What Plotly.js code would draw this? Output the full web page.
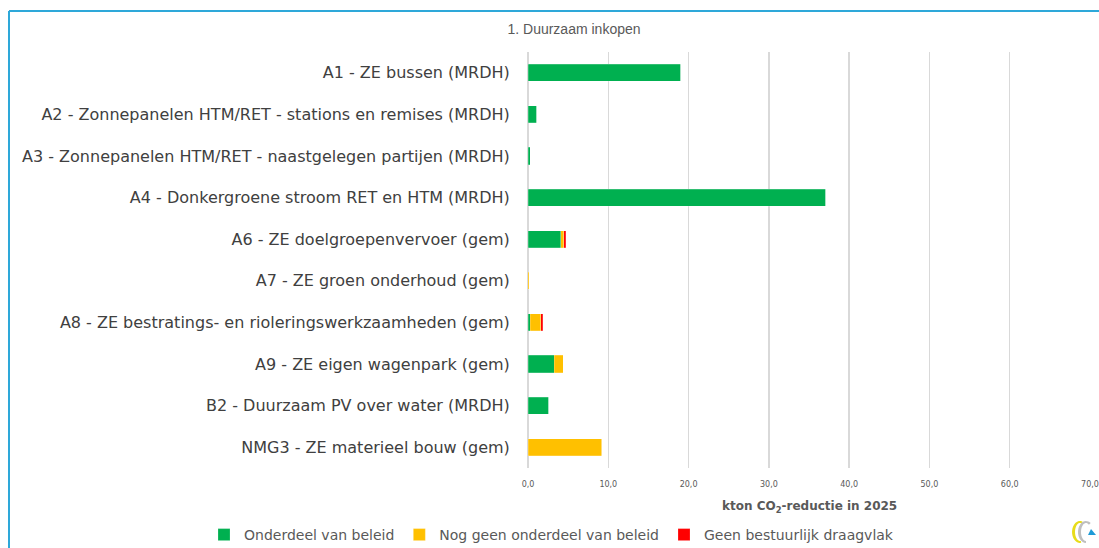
<!DOCTYPE html>
<html>
<head>
<meta charset="utf-8">
<script src="https://cdn.plot.ly/plotly-3.0.1.min.js"></script>
<style>
html,body{margin:0;padding:0;background:#fff;}
#chart{width:1099px;height:548px;}
</style>
</head>
<body>
<div id="chart"></div>
<script>
const categories = [
  "A1 - ZE bussen (MRDH)",
  "A2 - Zonnepanelen HTM/RET - stations en remises (MRDH)",
  "A3 - Zonnepanelen HTM/RET - naastgelegen partijen (MRDH)",
  "A4 - Donkergroene stroom RET en HTM (MRDH)",
  "A6 - ZE doelgroepenvervoer (gem)",
  "A7 - ZE groen onderhoud (gem)",
  "A8 - ZE bestratings- en rioleringswerkzaamheden (gem)",
  "A9 - ZE eigen wagenpark (gem)",
  "B2 - Duurzaam PV over water (MRDH)",
  "NMG3 - ZE materieel bouw (gem)"
];
const onderdeel    = [19.0, 1.1, 0.25, 37.1, 4.1, 0, 0.3, 3.3, 2.6, 0];
const nogGeen      = [0, 0, 0, 0, 0.33, 0.15, 1.3, 1.1, 0, 9.2];
const geenDraagvlak= [0, 0, 0, 0, 0.25, 0, 0.25, 0, 0, 0];
const seriesNames = ["Onderdeel van beleid", "Nog geen onderdeel van beleid", "Geen bestuurlijk draagvlak"];
const xTicks = [0, 10, 20, 30, 40, 50, 60, 70];
const chartTitle = "1. Duurzaam inkopen";
const xTitle = "kton CO<sub>2</sub>-reductie in 2025";

// plot area in pixels
const PL = 528, PR = 1090, PT = 52, PB = 468;
const px = x => (x - PL) / (PR - PL);
const py = y => (PB - y) / (PB - PT);

const txtColor = "#595959";
const font = "DejaVu Sans, Verdana, sans-serif";

const data = [
  {type:"bar", orientation:"h", y:categories, x:onderdeel, name:seriesNames[0],
   marker:{color:"#00B050", line:{color:"rgba(255,255,255,0.4)", width:0.5}}},
  {type:"bar", orientation:"h", y:categories, x:nogGeen, name:seriesNames[1],
   marker:{color:"#FFC000", line:{color:"rgba(255,255,255,0.4)", width:0.5}}},
  {type:"bar", orientation:"h", y:categories, x:geenDraagvlak, name:seriesNames[2],
   marker:{color:"#FF0000", line:{color:"rgba(255,255,255,0.4)", width:0.5}}}
];

// logo path helper (pixel coords -> paper)
function pathPx(pts){
  return pts.map((p,i)=> (i===0?"M":"L") + px(p[0]).toFixed(5) + "," + py(p[1]).toFixed(5)).join(" ") + " Z";
}
function arcPts(cx, cy, r1, r2, a0, a1, n){
  const out = [];
  for(let i=0;i<=n;i++){const a=a0+(a1-a0)*i/n; out.push([cx+r1*Math.cos(a), cy+r2*Math.sin(a)]);}
  for(let i=n;i>=0;i--){const a=a0+(a1-a0)*i/n; out.push([cx+(r1-3)*Math.cos(a), cy+(r2-2)*Math.sin(a)]);}
  return out;
}

const layout = {
  width:1099, height:548,
  margin:{l:PL, r:1099-PR, t:PT, b:548-PB, pad:0, autoexpand:false},
  paper_bgcolor:"#fff", plot_bgcolor:"#fff",
  barmode:"stack", bargap:0.59,
  separators:",.",
  font:{family:font, color:txtColor},
  title:{text:chartTitle, font:{family:"Liberation Sans Narrow, Liberation Sans, sans-serif", size:14, color:txtColor},
         x:574/1099, xref:"container", xanchor:"center", y:1-29/548, yref:"container", yanchor:"middle"},
  xaxis:{range:[0,70], tickvals:xTicks, tickformat:".1f", showgrid:true, gridcolor:"#D9D9D9", gridwidth:1.5,
         zeroline:true, zerolinecolor:"#D9D9D9", zerolinewidth:1.5, showline:false, ticks:"",
         tickfont:{size:8, color:txtColor, family:font},
         ticklabelstandoff:10, fixedrange:true, automargin:false},
  yaxis:{autorange:"reversed", showgrid:false, zeroline:false, showline:false,
         ticks:"outside", ticklen:14, tickcolor:"rgba(0,0,0,0)", automargin:false,
         tickfont:{size:16, color:"#404040", family:font}, fixedrange:true},
  legend:{orientation:"h", x:px(204), xanchor:"left", y:py(535), yanchor:"middle",
          font:{size:14, color:txtColor, family:font}, itemwidth:30, traceorder:"normal",
          bgcolor:"rgba(0,0,0,0)", borderwidth:0},
  showlegend:true,
  annotations:[
    {text:xTitle, xref:"paper", yref:"paper", x:px(809), y:py(507), xanchor:"center", yanchor:"middle",
     showarrow:false, font:{size:12, color:txtColor, family:font, weight:"bold"}}
  ],
  shapes:[
    {type:"line", xref:"paper", yref:"paper", x0:px(9), x1:px(1099), y0:py(11), y1:py(11), line:{color:"#2EA8D9", width:2}},
    {type:"line", xref:"paper", yref:"paper", x0:px(9), x1:px(9), y0:py(11), y1:py(548), line:{color:"#2EA8D9", width:2}},
    {type:"path", xref:"paper", yref:"paper", path:pathPx(arcPts(1080,532,8,11,Math.PI*0.45,Math.PI*1.6,16)), fillcolor:"#E8DC1A", line:{width:0}},
    {type:"path", xref:"paper", yref:"paper", path:pathPx(arcPts(1086,532,8,11,Math.PI*0.5,Math.PI*1.7,16)), fillcolor:"#BFBFBF", line:{width:0}},
    {type:"path", xref:"paper", yref:"paper", path:pathPx([[1091,529],[1096,535],[1088,535]]), fillcolor:"#1E9BD7", line:{width:0}}
  ]
};

Plotly.newPlot("chart", data, layout, {displayModeBar:false, staticPlot:true});
</script>
</body>
</html>
